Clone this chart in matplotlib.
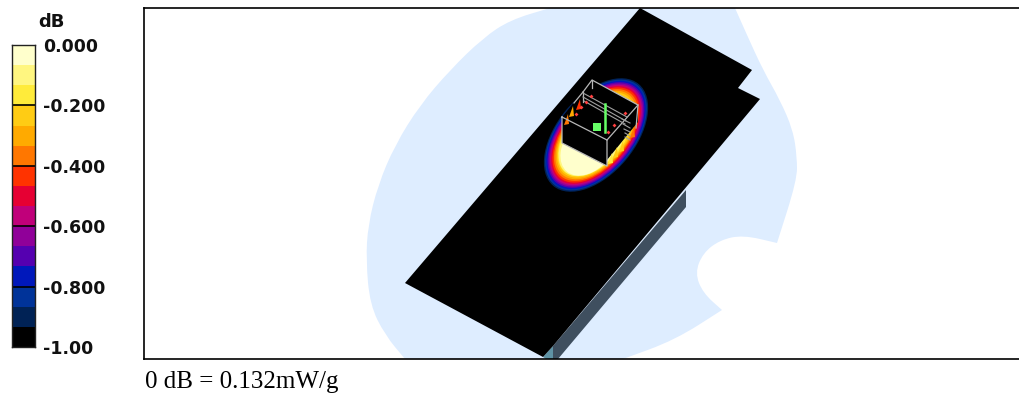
import numpy as np
import matplotlib
matplotlib.use('Agg')
import matplotlib.pyplot as plt
from matplotlib.colors import ListedColormap
from matplotlib.patches import Ellipse, Polygon, PathPatch
from matplotlib.path import Path

W, H = 1020, 394

# colour scale
scale_colors = ['#000000', '#002255', '#003399', '#0018BB', '#5500B0', '#900099', '#C0007A', '#E60033',
                '#FF3300', '#FF7700', '#FFAA00', '#FFCC14', '#FFEB3A', '#FFF680', '#FFFFCC']
tick_values = [0.0, -0.2, -0.4, -0.6, -0.8, -1.0]
tick_labels = ['0.000', '-0.200', '-0.400', '-0.600', '-0.800', '-1.00']

# scene outlines, in picture pixels (doubled points keep a sharp corner)
halo_x = [550, 510, 483, 450, 420, 395, 378, 368, 366, 370, 385, 405, 405, 623, 623, 675, 722, 722, 703, 695, 703,
          720, 743, 777, 777, 797, 797, 793, 780, 763, 747, 735, 735, 550]
halo_y = [8, 20, 38, 70, 105, 145, 185, 225, 260, 305, 335, 359, 359, 359, 359, 340, 310, 310, 293, 273, 253,
          240, 235, 243, 243, 180, 157, 130, 100, 70, 35, 8, 8, 8]
plate_x = [640, 752, 738, 760, 553, 543, 405]
plate_y = [8, 70, 88, 99, 346, 357, 283]
side_x = [686, 686, 558, 553, 553]
side_y = [190, 207, 359, 359, 346]
edge_x = [543, 553, 553, 546]
edge_y = [357, 346, 359, 359]

# hot spot rings, outer to inner
ring_colors = scale_colors[1:]
ring_a = [66.5, 65, 63.5, 62, 60.5, 59, 57.5, 56, 54, 52, 50, 47, 43, 36]
ring_b = [39, 38, 37, 36, 35, 34, 33, 32, 31, 30, 29, 28, 26.5, 24]
ring_cx = [596, 596, 596, 596, 596, 596, 596, 596, 596, 596, 596, 595, 593, 590]
ring_cy = [135, 135, 135, 135, 135, 135, 135, 135, 135, 135, 135, 136, 139, 144]

box_x = [562, 592, 638, 638, 607, 607, 562]
box_y = [117, 80, 105, 122, 160, 166, 143]
wire_x = [[562, 607, 607, 562, 562], [607, 638, 592, 583], [638, 636], [583, 583], [592, 592], [583, 574]]
wire_y = [[117, 140, 166, 143, 117], [140, 105, 80, 92], [105, 128], [92, 102], [80, 88], [92, 103]]
rail_x = [[583, 627], [583, 626], [584, 625], [622, 630], [623, 630], [624, 630], [625, 630], [625, 630]]
rail_y = [[93, 117], [97, 121], [101, 124], [119, 123], [124, 128], [129, 132], [133, 136], [137, 140]]
spike_x = [612, 617, 623, 634, 568, 573, 580]
spike_y = [153, 147, 141, 127, 114, 106, 99]
spike_c = ['#FFEB3A', '#FFCC14', '#FFCC14', '#FF7700', '#FF7700', '#FFAA00', '#FF3300']
dot_x = [591, 586, 581, 576, 625, 614, 608]
dot_y = [96, 102, 107, 114, 113, 125, 132]

fig = plt.figure(figsize=(W / 100, H / 100), dpi=100)
fig.patch.set_facecolor('white')


def px_axes(left, top, right, bottom):
    return fig.add_axes([left / W, 1 - bottom / H, (right - left) / W, (bottom - top) / H])


def smooth_outline(xs, ys):
    # quadratic curve through the midpoints of the outline points
    pts = np.column_stack([xs, ys]).astype(float)
    mids = (pts + np.roll(pts, -1, axis=0)) / 2
    verts = [mids[-1]]
    codes = [Path.MOVETO]
    for p, m in zip(pts, mids):
        verts += [p, m]
        codes += [Path.CURVE3, Path.CURVE3]
    return Path(verts, codes)


# colour bar
cax = px_axes(12, 45, 35, 347)
edges = np.linspace(-1, 0, len(scale_colors) + 1)
cax.pcolormesh([0, 1], edges, np.arange(len(scale_colors)).reshape(-1, 1), cmap=ListedColormap(scale_colors))
for v in tick_values[1:-1]:
    cax.axhline(v, color='black', lw=1.2)
cax.set_xticks([])
cax.yaxis.tick_right()
cax.set_yticks(tick_values)
cax.set_yticklabels(tick_labels, fontsize=12.5, fontweight='bold', color='#111111')
cax.tick_params(axis='y', length=0, pad=6)
for s in cax.spines.values():
    s.set_linewidth(1.0)
    s.set_color('#222222')

fig.text(38 / W, 1 - 27 / H, 'dB', fontsize=13, fontweight='bold', color='#111111')
fig.text(145 / W, 1 - 388 / H, '0 dB = 0.132mW/g', fontsize=18, family='Liberation Serif', color='black')

# scene
ax = px_axes(144, 8, 1020, 359)
ax.set_xlim(144, 1020)
ax.set_ylim(359, 8)
ax.set_xticks([])
ax.set_yticks([])
ax.spines['right'].set_visible(False)
for s in ax.spines.values():
    s.set_linewidth(1.2)

ax.add_patch(PathPatch(smooth_outline(halo_x, halo_y), fc='#DEEDFF', ec='none'))
ax.add_patch(Polygon(np.column_stack([side_x, side_y]), closed=True, fc='#3F4F5F', ec='none'))
ax.add_patch(Polygon(np.column_stack([edge_x, edge_y]), closed=True, fc='#5F93A5', ec='none'))
ax.add_patch(Polygon(np.column_stack([plate_x, plate_y]), closed=True, fc='black', ec='none'))

for c, a, b, cx, cy in zip(ring_colors, ring_a, ring_b, ring_cx, ring_cy):
    ax.add_patch(Ellipse((cx, cy), 2 * a, 2 * b, angle=-50, fc=c, ec='none'))

ax.add_patch(Polygon(np.column_stack([box_x, box_y]), closed=True, fc='black', ec='none'))
for x, y, c in zip(spike_x, spike_y, spike_c):
    ax.fill([x, x - 4, x + 1], [y, y + 11, y + 10], color=c, lw=0)
for x, y in zip(wire_x, wire_y):
    ax.plot(x, y, color='#B8B8B8', lw=0.9)
for x, y in zip(rail_x, rail_y):
    ax.plot(x, y, color='#A0A0A0', lw=0.8)
ax.plot([605, 605], [104, 132], color='#66FF66', lw=1.8)
ax.fill([593, 601, 601, 593], [123, 123, 131, 131], color='#66FF66', lw=0)
ax.scatter(dot_x, dot_y, s=4, marker='D', color='#FF4040', lw=0, zorder=5)

fig.savefig('out.png', dpi=100)
